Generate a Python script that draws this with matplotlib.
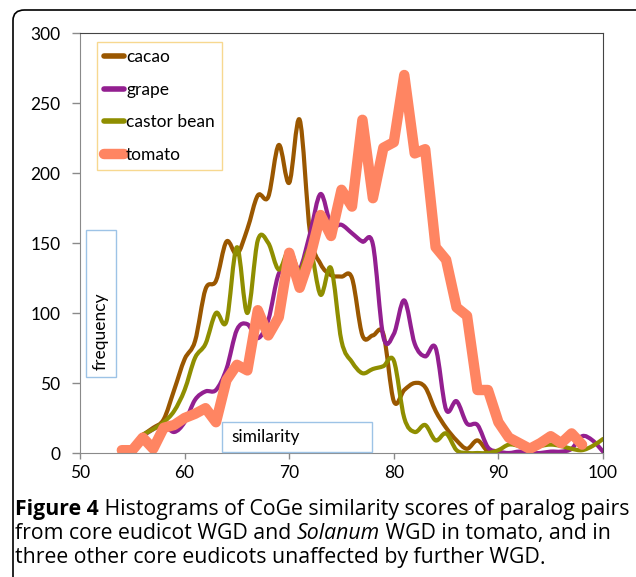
import numpy as np
import matplotlib.pyplot as plt
from matplotlib.path import Path
from matplotlib.patches import PathPatch, Rectangle, FancyBboxPatch
from matplotlib.lines import Line2D

# similarity bins (x) and frequencies
sim_cacao = list(range(56, 91))
cacao = [13, 18, 24, 45, 67, 80, 117, 123, 151, 142, 160, 184, 183, 220, 193, 238,
         157, 135, 127, 126, 125, 84, 84, 85, 37, 45, 50, 47, 30, 18, 9, 3, 9, 1, 0]

sim_grape = list(range(56, 101))
grape = [12, 17, 20, 15, 22, 38, 44, 45, 60, 88, 92, 82, 95, 128, 130, 131, 157, 185,
         163, 163, 157, 151, 149, 83, 85, 109, 78, 69, 75, 31, 37, 21, 20, 4, 1, 0,
         1, 0, 0, 1, 1, 3, 12, 9, 1]

sim_castor = list(range(56, 101))
castor = [13, 17, 22, 30, 45, 68, 78, 100, 94, 147, 100, 152, 150, 131, 145, 130,
          145, 113, 132, 80, 65, 57, 60, 62, 66, 25, 15, 20, 9, 14, 2, 0, 0, 0, 2,
          6, 5, 3, 5, 6, 5, 3, 2, 5, 10]

sim_tomato = list(range(54, 99))
tomato = [2, 2, 11, 3, 18, 20, 25, 28, 32, 22, 52, 63, 59, 102, 84, 97, 143, 118,
          140, 170, 155, 188, 176, 238, 182, 218, 222, 270, 214, 217, 147, 138, 104,
          98, 45, 45, 22, 11, 7, 3, 7, 12, 7, 14, 6]

x_ticks = [50, 60, 70, 80, 90, 100]
y_ticks = [0, 50, 100, 150, 200, 250, 300]

C_CACAO = '#9a5700'
C_GRAPE = '#931f90'
C_CASTOR = '#8f8e00'
C_TOMATO = '#ff8562'

W, H = 636, 577
plt.rcParams['font.family'] = ['Lato', 'DejaVu Sans']
FS = 12.5


def smooth_path(xs, ys):
    # Excel style smoothed line: Catmull-Rom segments as cubic Bezier curves
    pts = np.column_stack([xs, ys]).astype(float)
    n = len(pts)
    verts = [pts[0]]
    codes = [Path.MOVETO]
    for i in range(n - 1):
        p0 = pts[max(i - 1, 0)]
        p1 = pts[i]
        p2 = pts[i + 1]
        p3 = pts[min(i + 2, n - 1)]
        verts += [p1 + (p2 - p0) / 6, p2 - (p3 - p1) / 6, p2]
        codes += [Path.CURVE4] * 3
    return Path(verts, codes)


def fx(px):
    return px / W


def fy(py):
    return 1 - py / H


fig = plt.figure(figsize=(W / 100, H / 100), dpi=100)
ax = fig.add_axes([fx(80), fy(453), (603 - 80) / W, (453 - 33) / H])

for xs, ys, col in [(sim_cacao, cacao, C_CACAO), (sim_grape, grape, C_GRAPE),
                    (sim_castor, castor, C_CASTOR)]:
    ax.add_patch(PathPatch(smooth_path(xs, ys), fill=False, edgecolor=col,
                           linewidth=3.0, capstyle='round', joinstyle='round'))
ax.plot(sim_tomato, tomato, color=C_TOMATO, linewidth=7.5,
        solid_capstyle='round', solid_joinstyle='round')

ax.set_xlim(50, 100)
ax.set_ylim(0, 300)
ax.set_xticks(x_ticks)
ax.set_yticks(y_ticks)
ax.tick_params(axis='both', labelsize=FS, color='#8a8a8a', width=1)
ax.tick_params(axis='y', length=6, pad=8)
ax.tick_params(axis='x', length=4, pad=5)
ax.spines['left'].set_color('#8a8a8a')
ax.spines['bottom'].set_color('#8a8a8a')
ax.spines['top'].set_color('#444444')
ax.spines['right'].set_color('#444444')

handles = [Line2D([], [], color=C_CACAO, lw=4, solid_capstyle='round'),
           Line2D([], [], color=C_GRAPE, lw=4, solid_capstyle='round'),
           Line2D([], [], color=C_CASTOR, lw=4, solid_capstyle='round'),
           Line2D([], [], color=C_TOMATO, lw=7.5, solid_capstyle='round')]
leg = ax.legend(handles, ['cacao', 'grape', 'castor bean', 'tomato'],
                loc='upper left', bbox_to_anchor=(0.032, 0.979), borderaxespad=0,
                fontsize=FS, handlelength=1.15, handletextpad=0.12,
                labelspacing=0.95, borderpad=0.42, fancybox=False, framealpha=1)
leg.get_frame().set_edgecolor('#f7d890')
leg.get_frame().set_linewidth(1)

# axis title boxes drawn inside the plot
fig.add_artist(Rectangle((fx(86), fy(377)), (116 - 86) / W, (377 - 230) / H,
                         transform=fig.transFigure, fill=False,
                         edgecolor='#9dc3e6', lw=1))
fig.text(fx(101), fy(331), 'frequency', rotation=90, ha='center', va='center',
         fontsize=FS)
fig.add_artist(Rectangle((fx(222), fy(452)), (372 - 222) / W, (452 - 422) / H,
                         transform=fig.transFigure, fill=False,
                         edgecolor='#9dc3e6', lw=1))
fig.text(fx(231), fy(437), 'similarity', ha='left', va='center', fontsize=FS)

# outer rounded frame
fig.add_artist(FancyBboxPatch((fx(13), fy(600)), (700 - 13) / W, (600 - 10) / H,
                              boxstyle='round,pad=0,rounding_size=0.018',
                              transform=fig.transFigure, fill=False,
                              edgecolor='black', lw=1.2, clip_on=False))

# caption with mixed bold / italic runs
caption = [
    [('Figure 4', 'bold', 'normal'),
     (' Histograms of CoGe similarity scores of paralog pairs', 'normal', 'normal')],
    [('from core eudicot WGD and ', 'normal', 'normal'), ('Solanum', 'normal', 'italic'),
     (' WGD in tomato, and in', 'normal', 'normal')],
    [('three other core eudicots unaffected by further WGD', 'normal', 'normal'),
     ('.', 'normal', 'normal')],
]
renderer = fig.canvas.get_renderer()
for i, line in enumerate(caption):
    x = fx(15)
    y = fy(509 + i * 24.5)
    for txt, weight, style in line:
        t = fig.text(x, y, txt, fontsize=15.3,
                     fontweight='bold' if weight == 'bold' else 'medium',
                     fontstyle=style, family='Open Sans', va='center', ha='left')
        bb = t.get_window_extent(renderer=renderer)
        x += bb.width / fig.bbox.width

fig.savefig('out.png', dpi=100)
